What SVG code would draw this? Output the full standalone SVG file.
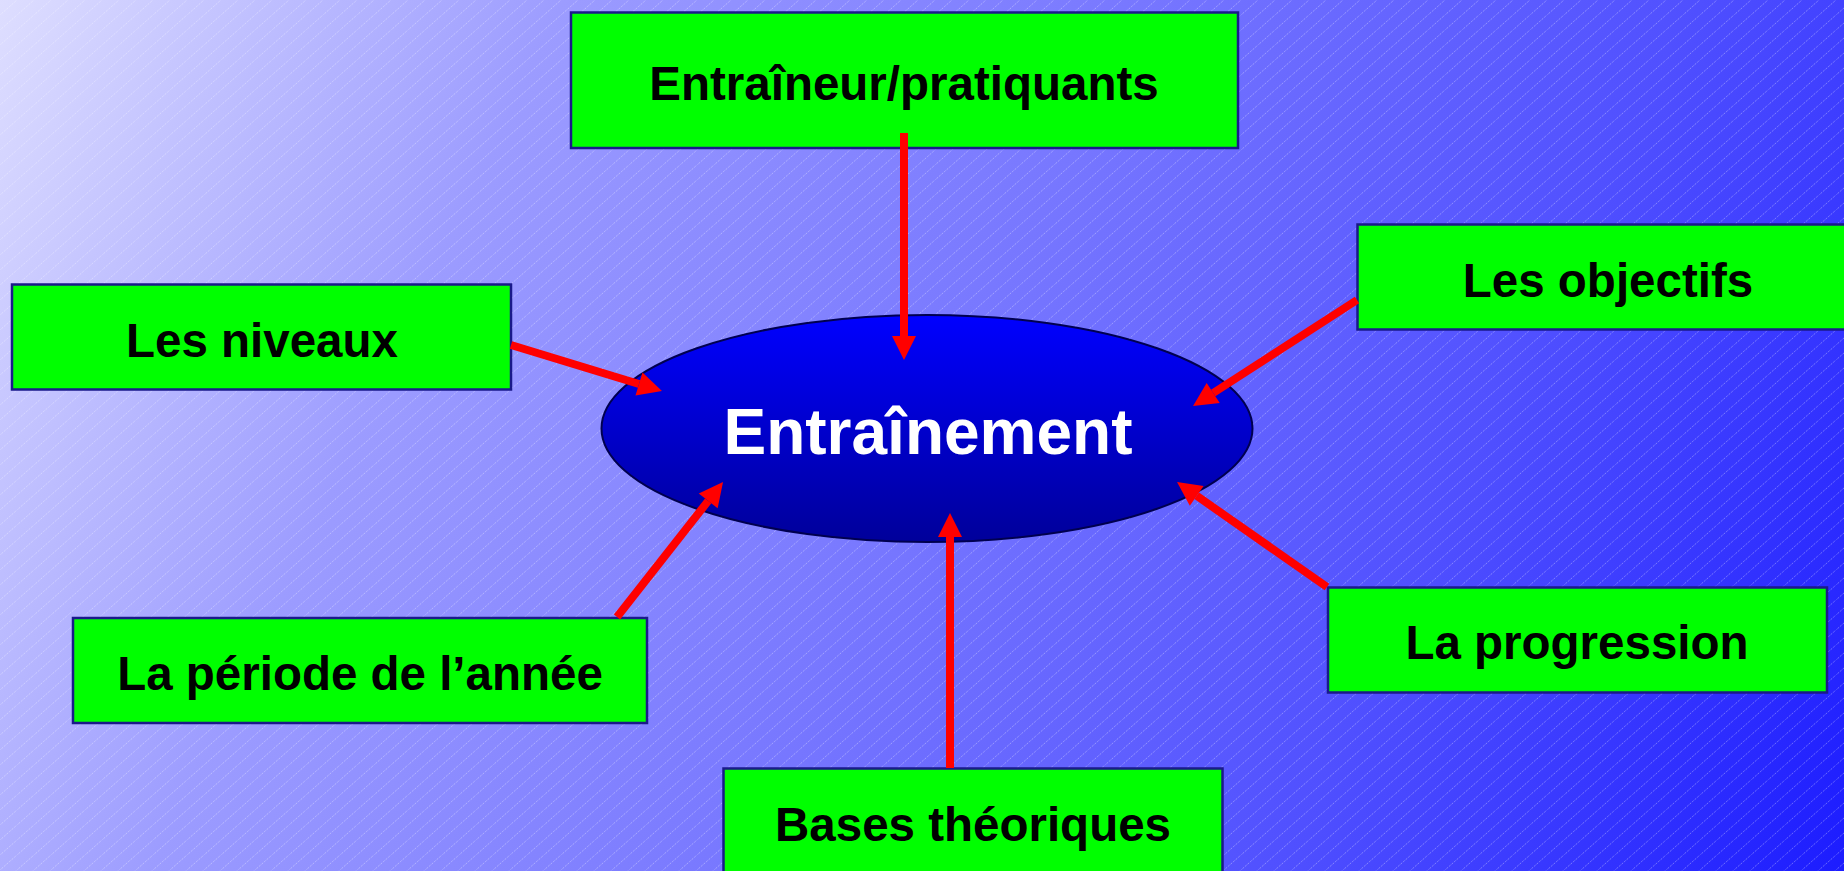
<svg xmlns="http://www.w3.org/2000/svg" width="1844" height="871" viewBox="0 0 1844 871">
  <defs>
    <linearGradient id="bg" gradientUnits="userSpaceOnUse" x1="0" y1="0" x2="1844" y2="871">
      <stop offset="0" stop-color="#dedeff"/>
      <stop offset="0.25" stop-color="#9c9cff"/>
      <stop offset="0.5" stop-color="#7878ff"/>
      <stop offset="0.75" stop-color="#5050ff"/>
      <stop offset="1" stop-color="#1c1cff"/>
    </linearGradient>
    <pattern id="hatch" patternUnits="userSpaceOnUse" width="17" height="15">
      <line x1="-1" y1="15.9" x2="18" y2="-0.9" stroke="#ffffff" stroke-opacity="0.45" stroke-width="1" stroke-dasharray="1 1.2"/>
    </pattern>
    <linearGradient id="hub" x1="0" y1="0" x2="0" y2="1">
      <stop offset="0" stop-color="#0000ff"/>
      <stop offset="1" stop-color="#00009a"/>
    </linearGradient>
    <marker id="head" markerUnits="userSpaceOnUse" markerWidth="24" markerHeight="24" refX="0" refY="12" orient="auto" overflow="visible">
      <path d="M0,0 L24,12 L0,24 Z" fill="#ff0000"/>
    </marker>
    <style>
      .box { fill: #00ff00; stroke: #1a1a8a; stroke-width: 2.5; }
      .lbl { font-family: "Liberation Sans", Arial, sans-serif; font-weight: bold; font-size: 47.5px; fill: #000000; text-anchor: middle; }
      .hubtxt { font-family: "Liberation Sans", Arial, sans-serif; font-weight: bold; font-size: 64px; fill: #ffffff; text-anchor: middle; }
      .arrow { stroke: #ff0000; stroke-width: 8; fill: none; marker-end: url(#head); }
    </style>
  </defs>

  <!-- background -->
  <rect x="0" y="0" width="1844" height="871" fill="url(#bg)"/>
  <rect x="0" y="0" width="1844" height="871" fill="url(#hatch)"/>

  <!-- central node -->
  <g id="entrainement">
    <ellipse cx="927" cy="428.5" rx="325.5" ry="113.5" fill="url(#hub)" stroke="#000050" stroke-width="2"/>
    <text class="hubtxt" x="928" y="454">Entraînement</text>
  </g>

  <!-- surrounding nodes -->
  <g id="entraineur">
    <rect class="box" x="571" y="12.5" width="667" height="135.5"/>
    <text class="lbl" x="904" y="100">Entraîneur/pratiquants</text>
  </g>
  <g id="niveaux">
    <rect class="box" x="12" y="284.5" width="499" height="105"/>
    <text class="lbl" x="262" y="357">Les niveaux</text>
  </g>
  <g id="objectifs">
    <rect class="box" x="1357.5" y="224.5" width="505" height="105"/>
    <text class="lbl" x="1608" y="297">Les objectifs</text>
  </g>
  <g id="periode">
    <rect class="box" x="73" y="618" width="574" height="105"/>
    <text class="lbl" x="360" y="690">La période de l’année</text>
  </g>
  <g id="bases">
    <rect class="box" x="723.5" y="768.5" width="499" height="115"/>
    <text class="lbl" x="973" y="841">Bases théoriques</text>
  </g>
  <g id="progression">
    <rect class="box" x="1328" y="587.5" width="499" height="105"/>
    <text class="lbl" x="1577" y="659">La progression</text>
  </g>

  <!-- connectors -->
  <g id="connectors">
    <line class="arrow" x1="904" y1="133" x2="904" y2="336"/>
    <line class="arrow" x1="511" y1="345" x2="639" y2="384"/>
    <line class="arrow" x1="1357" y1="300" x2="1213.2" y2="393"/>
    <line class="arrow" x1="617" y1="617" x2="708.2" y2="500.9"/>
    <line class="arrow" x1="950" y1="768" x2="950" y2="537"/>
    <line class="arrow" x1="1327" y1="587" x2="1196.7" y2="495.8"/>
  </g>
</svg>
